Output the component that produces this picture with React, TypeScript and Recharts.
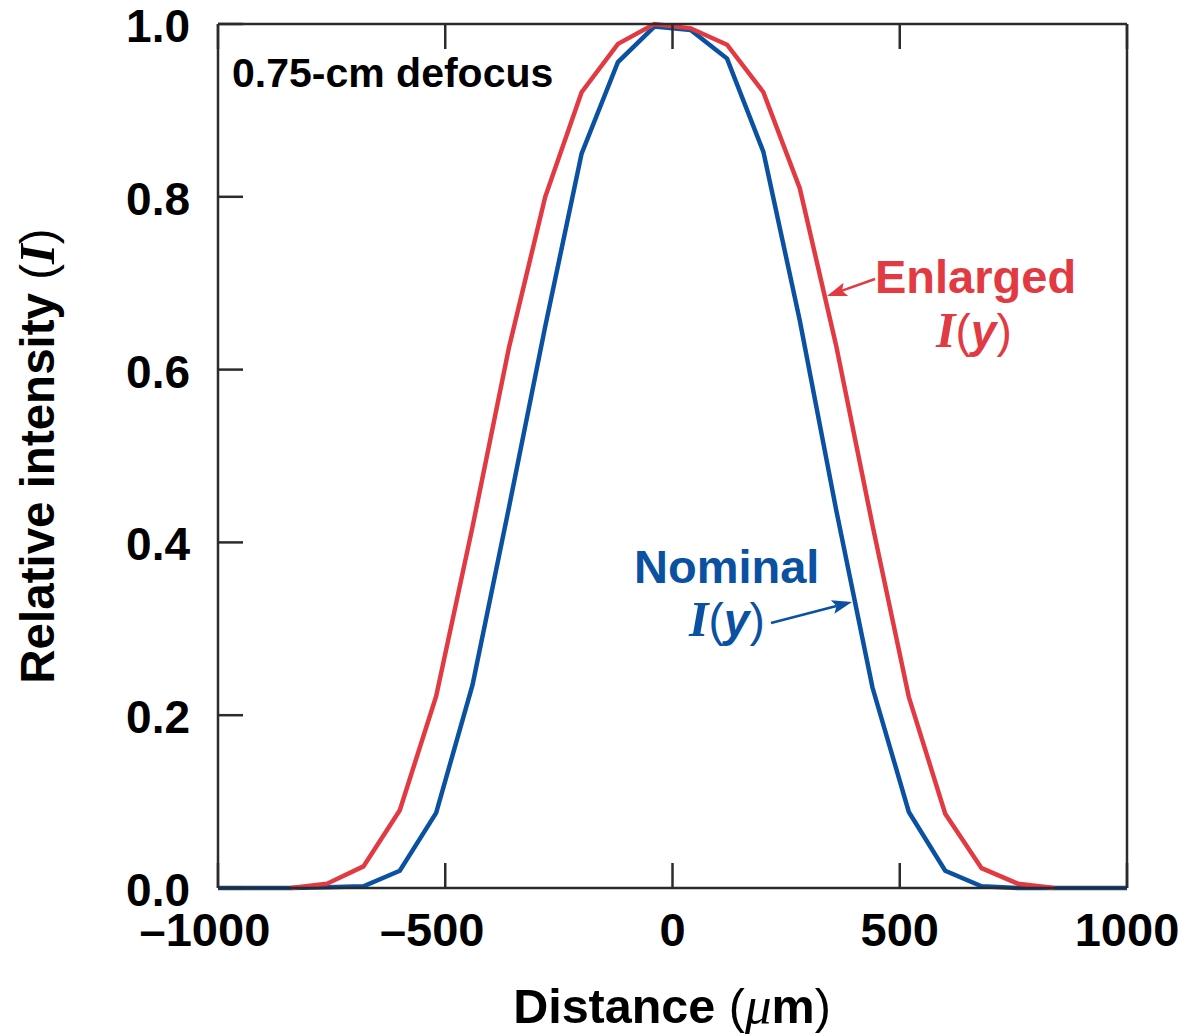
import React from "react";
import { LineChart, Line, XAxis, YAxis } from "recharts";

const distances = [
  -1000, -920, -840, -760, -680, -600, -520, -440, -360, -280, -200, -120, -40,
  40, 120, 200, 280, 360, 440, 520, 600, 680, 760, 840, 920, 1000,
];
const nominal = [
  0, 0, 0, 0.001, 0.002, 0.02, 0.087, 0.235, 0.44, 0.65, 0.85, 0.956, 0.997,
  0.993, 0.96, 0.852, 0.657, 0.438, 0.232, 0.088, 0.02, 0.002, 0, 0, 0, 0,
];
const enlarged = [
  null, null, 0, 0.005, 0.025, 0.09, 0.222, 0.418, 0.625, 0.8, 0.921, 0.977, 1.0,
  0.995, 0.976, 0.921, 0.81, 0.628, 0.42, 0.221, 0.086, 0.023, 0.005, 0, null, null,
];
const xTicks = [-1000, -500, 0, 500, 1000];
const yTicks = [0, 0.2, 0.4, 0.6, 0.8, 1.0];

const data = distances.map((d, i) => ({ d, nominal: nominal[i], enlarged: enlarged[i] }));

const RED = "#E23A42";
const BLUE = "#0A51A1";
const AXIS = "#2b2a2c";
const SANS = "'Liberation Sans', Arial, Helvetica, sans-serif";
const SERIF = "'Liberation Serif', 'Times New Roman', serif";

const W = 1180;
const H = 1035;
const FS = 47;
const YFS = 46;

const EmptyTick = () => <g />;

function XTick(props: any) {
  const { x, y, payload } = props;
  const v: number = payload.value;
  const digits = `${Math.abs(v)}`;
  const half = (digits.length * 0.556 * FS) / 2;
  const dash = v < 0 ? 0.556 * FS : 0;
  return (
    <text
      x={x - half - dash}
      y={y}
      dy={FS * 0.71}
      textAnchor="start"
      fontFamily={SANS}
      fontWeight={700}
      fontSize={FS}
      fill="#000"
    >
      {v < 0 ? `\u2013${digits}` : digits}
    </text>
  );
}

function YTick(props: any) {
  const { x, y, payload } = props;
  return (
    <text
      x={x}
      y={y}
      dy={18}
      textAnchor="end"
      fontFamily={SANS}
      fontWeight={700}
      fontSize={YFS}
      fill="#000"
    >
      {Number(payload.value).toFixed(1)}
    </text>
  );
}

function Arrow({ x1, y1, x2, y2, color }: { x1: number; y1: number; x2: number; y2: number; color: string }) {
  const dx = x2 - x1;
  const dy = y2 - y1;
  const len = Math.sqrt(dx * dx + dy * dy);
  const ux = dx / len;
  const uy = dy / len;
  const hl = 20;
  const hw = 7;
  const bx = x2 - ux * hl;
  const by = y2 - uy * hl;
  const px = -uy;
  const py = ux;
  const pts = `${x2},${y2} ${bx + px * hw},${by + py * hw} ${bx + ux * 4},${by + uy * 4} ${bx - px * hw},${by - py * hw}`;
  return (
    <g>
      <line x1={x1} y1={y1} x2={bx + ux * 4} y2={by + uy * 4} stroke={color} strokeWidth={2.5} />
      <polygon points={pts} fill={color} />
    </g>
  );
}

function IY({ x, y, color }: { x: number; y: number; color: string }) {
  return (
    <text x={x} y={y} fill={color} fontSize={46}>
      <tspan fontFamily={SERIF} fontStyle="italic" fontWeight={700} fontSize={50}>I</tspan>
      <tspan fontFamily={SANS} fontWeight={400}>(</tspan>
      <tspan fontFamily={SANS} fontStyle="italic" fontWeight={700}>y</tspan>
      <tspan fontFamily={SANS} fontWeight={400}>)</tspan>
    </text>
  );
}

export default function App() {
  return (
    <div style={{ position: "absolute", left: 0, top: 0, width: W, height: H }}>
      <LineChart
        width={W}
        height={H}
        data={data}
        margin={{ top: 23, right: 52, bottom: 87, left: 158 }}
      >
        <XAxis
          xAxisId="bottom"
          dataKey="d"
          type="number"
          domain={[-1000, 1000]}
          ticks={xTicks}
          height={60}
          tickSize={-25}
          tickMargin={50}
          tick={XTick}
          axisLine={{ stroke: AXIS, strokeWidth: 2.5 }}
          tickLine={{ stroke: AXIS, strokeWidth: 2.5 }}
          interval={0}
        />
        <XAxis
          xAxisId="top"
          dataKey="d"
          orientation="top"
          type="number"
          domain={[-1000, 1000]}
          ticks={xTicks}
          height={1}
          tickSize={-25}
          tick={EmptyTick}
          axisLine={{ stroke: AXIS, strokeWidth: 2.5 }}
          tickLine={{ stroke: AXIS, strokeWidth: 2.5 }}
          interval={0}
        />
        <YAxis
          yAxisId="left"
          type="number"
          domain={[0, 1]}
          ticks={yTicks}
          width={60}
          tickSize={-25}
          tickMargin={53}
          tick={YTick}
          axisLine={{ stroke: AXIS, strokeWidth: 2.5 }}
          tickLine={{ stroke: AXIS, strokeWidth: 2.5 }}
          interval={0}
        />
        <YAxis
          yAxisId="right"
          orientation="right"
          type="number"
          domain={[0, 1]}
          ticks={yTicks}
          width={1}
          tickSize={-25}
          tick={EmptyTick}
          axisLine={{ stroke: AXIS, strokeWidth: 2.5 }}
          tickLine={{ stroke: AXIS, strokeWidth: 2.5 }}
          interval={0}
        />
        <Line
          xAxisId="bottom"
          yAxisId="left"
          type="linear"
          dataKey="nominal"
          stroke={BLUE}
          strokeWidth={4.5}
          dot={false}
          isAnimationActive={false}
          connectNulls={false}
        />
        <Line
          xAxisId="bottom"
          yAxisId="left"
          type="linear"
          dataKey="enlarged"
          stroke={RED}
          strokeWidth={4.5}
          dot={false}
          isAnimationActive={false}
          connectNulls={false}
        />
      </LineChart>
      <svg
        width={W}
        height={H}
        style={{ position: "absolute", left: 0, top: 0, pointerEvents: "none" }}
      >
        <text x={232} y={87} fontFamily={SANS} fontWeight={700} fontSize={41} fill="#000">
          0.75-cm defocus
        </text>
        <text x={875} y={293} fontFamily={SANS} fontWeight={700} fontSize={47} fill={RED}>
          Enlarged
        </text>
        <IY x={936} y={347} color={RED} />
        <Arrow x1={875} y1={279} x2={827} y2={296} color={RED} />
        <text x={634} y={583} fontFamily={SANS} fontWeight={700} fontSize={47} fill={BLUE}>
          Nominal
        </text>
        <IY x={689} y={636} color={BLUE} />
        <Arrow x1={771} y1={623} x2={852} y2={602} color={BLUE} />
        <text
          x={54}
          y={456}
          transform="rotate(-90 54 456)"
          textAnchor="middle"
          fontFamily={SANS}
          fontWeight={700}
          fontSize={47.5}
          fill="#000"
        >
          Relative intensity <tspan fontWeight={400}>(</tspan>
          <tspan fontFamily={SERIF} fontStyle="italic" fontWeight={700} fontSize={51}>I</tspan>
          <tspan fontWeight={400}>)</tspan>
        </text>
        <text
          x={672}
          y={1023}
          textAnchor="middle"
          fontFamily={SANS}
          fontWeight={700}
          fontSize={48.5}
          fill="#000"
        >
          Distance <tspan fontWeight={400}>(</tspan>
          <tspan fontFamily={SERIF} fontStyle="italic" fontWeight={400} fontSize={53}>{"\u03BC"}</tspan>
          <tspan>m</tspan>
          <tspan fontWeight={400}>)</tspan>
        </text>
      </svg>
    </div>
  );
}
